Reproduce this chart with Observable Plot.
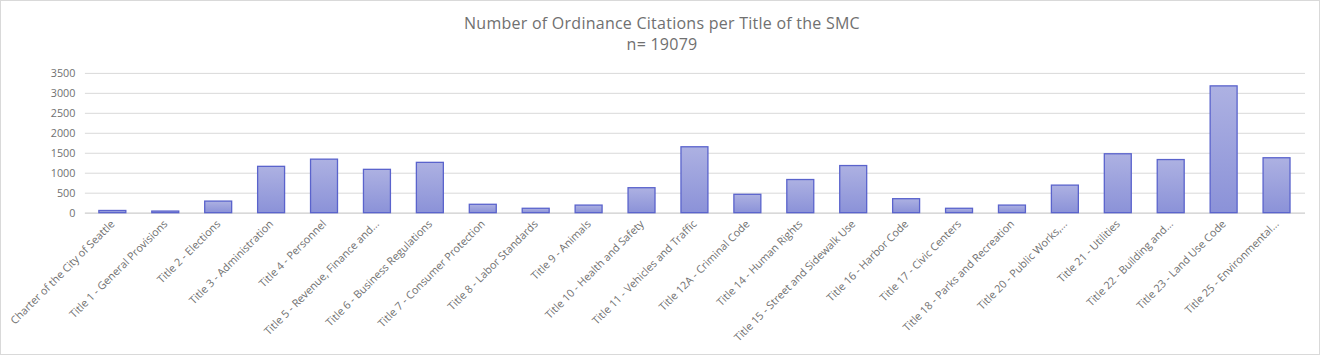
<!DOCTYPE html>
<html>
<head>
<meta charset="utf-8">
<script src="https://cdn.jsdelivr.net/npm/d3@7"></script>
<script src="https://cdn.jsdelivr.net/npm/@observablehq/plot@0.6"></script>
<style>
  html, body { margin: 0; padding: 0; background: #fff; }
  #frame { position: relative; width: 1318px; height: 353px; border: 1px solid #d9d9d9; background: #fff; overflow: hidden; }
  #title { position: absolute; left: 0; width: 1322px; top: 12px; text-align: center; font-family: "Open Sans", sans-serif; color: #707070; font-size: 16px; line-height: 21px; letter-spacing: 0.25px; }
  #chart { position: absolute; left: 0; top: 0; }
</style>
</head>
<body>
<div id="frame">
  <div id="chart"></div>
  <div id="title">Number of Ordinance Citations per Title of the SMC<br>n= 19079</div>
</div>
<script>
const categories = [
  "Charter of the City of Seattle",
  "Title 1 - General Provisions",
  "Title 2 - Elections",
  "Title 3 - Administration",
  "Title 4 - Personnel",
  "Title 5 - Revenue, Finance and...",
  "Title 6 - Business Regulations",
  "Title 7 - Consumer Protection",
  "Title 8 - Labor Standards",
  "Title 9 - Animals",
  "Title 10 - Health and Safety",
  "Title 11 - Vehicles and Traffic",
  "Title 12A - Criminal Code",
  "Title 14 - Human Rights",
  "Title 15 - Street and Sidewalk Use",
  "Title 16 - Harbor Code",
  "Title 17 - Civic Centers",
  "Title 18 - Parks and Recreation",
  "Title 20 - Public Works,...",
  "Title 21 - Utilities",
  "Title 22 - Building and...",
  "Title 23 - Land Use Code",
  "Title 25 - Environmental..."
];
const citations = [55, 40, 290, 1160, 1340, 1085, 1260, 210, 110, 190, 625, 1650, 460, 830, 1180, 350, 110, 190, 690, 1475, 1330, 3175, 1375];
const yTicks = [0, 500, 1000, 1500, 2000, 2500, 3000, 3500];

const data = categories.map((c, i) => ({category: c, value: citations[i]}));

const chart = Plot.plot({
  width: 1320,
  height: 353,
  marginTop: 72,
  marginBottom: 141,
  marginLeft: 84,
  marginRight: 14,
  style: { fontFamily: "Open Sans, sans-serif", fontSize: "10.8px", color: "#707070", background: "transparent" },
  x: { domain: categories, paddingInner: 0.49, paddingOuter: 0.245, label: null, tickSize: 0, tickPadding: 9, tickRotate: -45 },
  y: { domain: [0, 3500], ticks: yTicks, tickFormat: d => String(d), label: null, tickSize: 0, tickPadding: 10 },
  marks: [
    Plot.gridY(yTicks, { stroke: "#d9d9d9", strokeOpacity: 1, strokeWidth: 1 }),
    Plot.ruleY([0], { stroke: "#d9d9d9", strokeWidth: 1.5 }),
    Plot.barY(data, { x: "category", y: "value", fill: "url(#barGrad)", stroke: "#5a63cc", strokeWidth: 1.3 })
  ]
});

const svg = d3.select(chart);
const defs = svg.insert("defs", ":first-child");
const grad = defs.append("linearGradient").attr("id", "barGrad").attr("x1", 0).attr("y1", 0).attr("x2", 0).attr("y2", 1);
grad.append("stop").attr("offset", "0%").attr("stop-color", "#adb1e2");
grad.append("stop").attr("offset", "100%").attr("stop-color", "#8b92d8");
svg.selectAll("text").attr("fill", "#707070");

document.getElementById("chart").appendChild(chart);
</script>
</body>
</html>
